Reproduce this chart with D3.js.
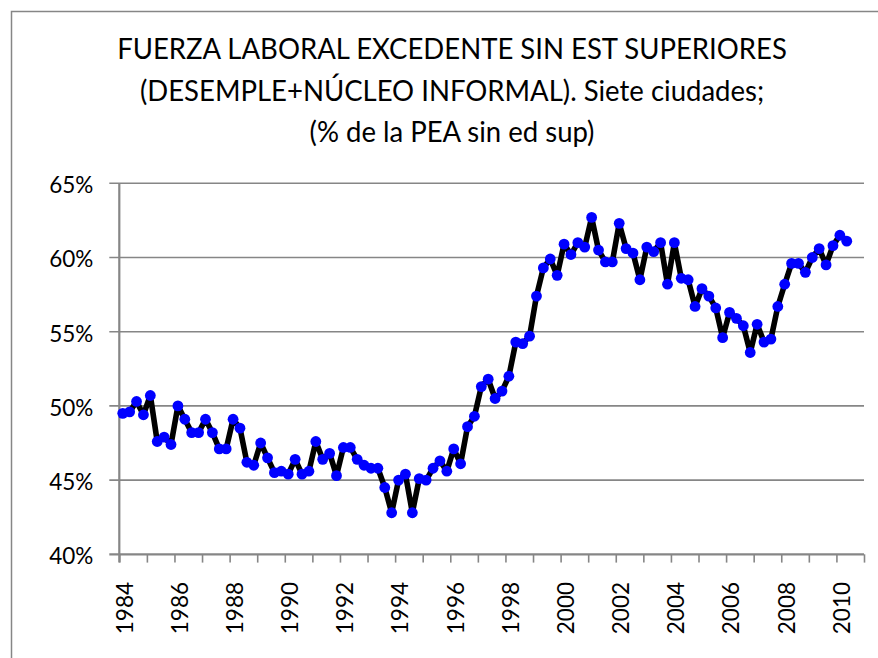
<!DOCTYPE html>
<html>
<head>
<meta charset="utf-8">
<script src="https://cdn.jsdelivr.net/npm/d3@7"></script>
<style>
  body { margin: 0; background: #fff; }
  text { font-family: Lato, "Open Sans", "Liberation Sans", sans-serif; fill: #000; }
</style>
</head>
<body>
<script>
(function (d3) {
  // quarterly figures, 1984-I to 2010-II (share of labour force, %)
  var values = [
    49.5, 49.6, 50.3, 49.4, 50.7, 47.6, 47.9, 47.4,
    50.0, 49.1, 48.2, 48.2, 49.1, 48.2, 47.1, 47.1,
    49.1, 48.5, 46.2, 46.0, 47.5, 46.5, 45.5, 45.6,
    45.4, 46.4, 45.4, 45.6, 47.6, 46.4, 46.8, 45.3,
    47.2, 47.2, 46.4, 46.0, 45.8, 45.8, 44.5, 42.8,
    45.0, 45.4, 42.8, 45.1, 45.0, 45.8, 46.3, 45.6,
    47.1, 46.1, 48.6, 49.3, 51.3, 51.8, 50.5, 51.0,
    52.0, 54.3, 54.2, 54.7, 57.4, 59.3, 59.9, 58.8,
    60.9, 60.2, 61.0, 60.7, 62.7, 60.5, 59.7, 59.7,
    62.3, 60.6, 60.3, 58.5, 60.7, 60.4, 61.0, 58.2,
    61.0, 58.6, 58.5, 56.7, 57.9, 57.4, 56.6, 54.6,
    56.3, 55.9, 55.4, 53.6, 55.5, 54.3, 54.5, 56.7,
    58.2, 59.6, 59.6, 59.0, 60.0, 60.6, 59.5, 60.8,
    61.5, 61.1
  ];
  var years = d3.range(1984, 2011);
  var quarters = ['I', 'II', 'III', 'IV'];
  var yTicks = [40, 45, 50, 55, 60, 65];
  var titleLines = [
    'FUERZA LABORAL EXCEDENTE SIN EST SUPERIORES',
    '(DESEMPLE+NÚCLEO INFORMAL). Siete ciudades;',
    '(% de la PEA sin ed sup)'
  ];

  // categories run through 2010-IV, the last two have no value
  var categories = [];
  years.forEach(function (yr) {
    quarters.forEach(function (q) { categories.push(yr + '-' + q); });
  });
  var series = values.map(function (v, i) { return { cat: categories[i], value: v }; });

  var width = 878, height = 658;
  var left = 119.3, right = 864, top = 183.3, bottom = 554.3;
  var grey = '#868686';

  var svg = d3.select('body').append('svg')
    .attr('width', width)
    .attr('height', height);

  svg.append('rect')
    .attr('x', 11.5).attr('y', 11.5)
    .attr('width', 900).attr('height', 700)
    .attr('fill', '#fff')
    .attr('stroke', grey)
    .attr('stroke-width', 1.5);

  /* ---------- title ---------- */
  var title = svg.append('g')
    .attr('transform', 'translate(452,0)');
  var tl = title.selectAll('text')
    .data(titleLines)
    .enter().append('text')
    .attr('x', 0)
    .attr('y', function (d, i) { return 59.5 + i * 41.5; })
    .attr('text-anchor', 'middle')
    .attr('font-size', 29.5)
    .text(function (d) { return d; });
  // squeeze horizontally to the width of the original (narrower) face
  var w0 = tl.node().getComputedTextLength();
  var k = 670 / w0;
  title.attr('transform', 'translate(452,0) scale(' + k + ',1)');

  /* ---------- scales ---------- */
  var x = d3.scaleBand()
    .domain(categories)
    .range([left, right])
    .padding(0);
  var xi = d3.scaleLinear()
    .domain([0, categories.length])
    .range([left, right]);
  var y = d3.scaleLinear()
    .domain([40, 65])
    .range([bottom, top]);

  /* ---------- grid ---------- */
  svg.append('g')
    .selectAll('line')
    .data(yTicks)
    .enter().append('line')
    .attr('x1', left - 10)
    .attr('x2', right)
    .attr('y1', function (d) { return y(d); })
    .attr('y2', function (d) { return y(d); })
    .attr('stroke', grey)
    .attr('stroke-width', function (d) { return d === 40 ? 2.2 : 1.6; });

  // y axis labels
  var yAxis = svg.append('g')
    .attr('transform', 'translate(' + left + ',0)')
    .call(d3.axisLeft(y)
      .tickValues(yTicks)
      .tickSize(10)
      .tickPadding(16)
      .tickFormat(function (d) { return d + '%'; }));
  yAxis.select('.domain').remove();
  yAxis.selectAll('line').remove();
  yAxis.selectAll('text')
    .attr('font-size', 22.5)
    .attr('dy', '0.42em')
    .attr('font-family', null);

  // vertical axis line (runs down to the first tick mark)
  svg.append('line')
    .attr('x1', left).attr('x2', left)
    .attr('y1', top).attr('y2', bottom + 8.3)
    .attr('stroke', grey)
    .attr('stroke-width', 2.2);

  // x tick marks every year, at the category borders
  var xTicks = svg.append('g')
    .attr('transform', 'translate(0,' + bottom + ')')
    .call(d3.axisBottom(xi)
      .tickValues(d3.range(0, categories.length + 1, 4))
      .tickSize(8.3)
      .tickFormat(''));
  xTicks.select('.domain').remove();
  xTicks.selectAll('line')
    .attr('stroke', grey)
    .attr('stroke-width', 1.6);

  // x labels every two years, rotated
  var xLabels = svg.append('g')
    .attr('transform', 'translate(0,' + bottom + ')')
    .call(d3.axisBottom(x)
      .tickValues(categories.filter(function (c, i) { return i % 8 === 0; }))
      .tickSize(0)
      .tickFormat(function (c) { return c.split('-')[0]; }));
  xLabels.select('.domain').remove();
  xLabels.selectAll('text')
    .attr('font-size', 22.5)
    .attr('font-family', null)
    .attr('text-anchor', 'end')
    .attr('transform', 'rotate(-90)')
    .attr('x', -27.7)
    .attr('y', 2)
    .attr('dy', '0.35em');

  /* ---------- series ---------- */
  var cx = function (d) { return x(d.cat) + x.bandwidth() / 2; };

  svg.append('path')
    .datum(series)
    .attr('fill', 'none')
    .attr('stroke', '#000')
    .attr('stroke-width', 5.6)
    .attr('stroke-linejoin', 'round')
    .attr('d', d3.line().x(cx).y(function (d) { return y(d.value); }));

  svg.append('g')
    .selectAll('circle')
    .data(series)
    .enter().append('circle')
    .attr('cx', cx)
    .attr('cy', function (d) { return y(d.value); })
    .attr('r', 5.4)
    .attr('fill', '#0000ff');

}(window.d3));
</script>
</body>
</html>
